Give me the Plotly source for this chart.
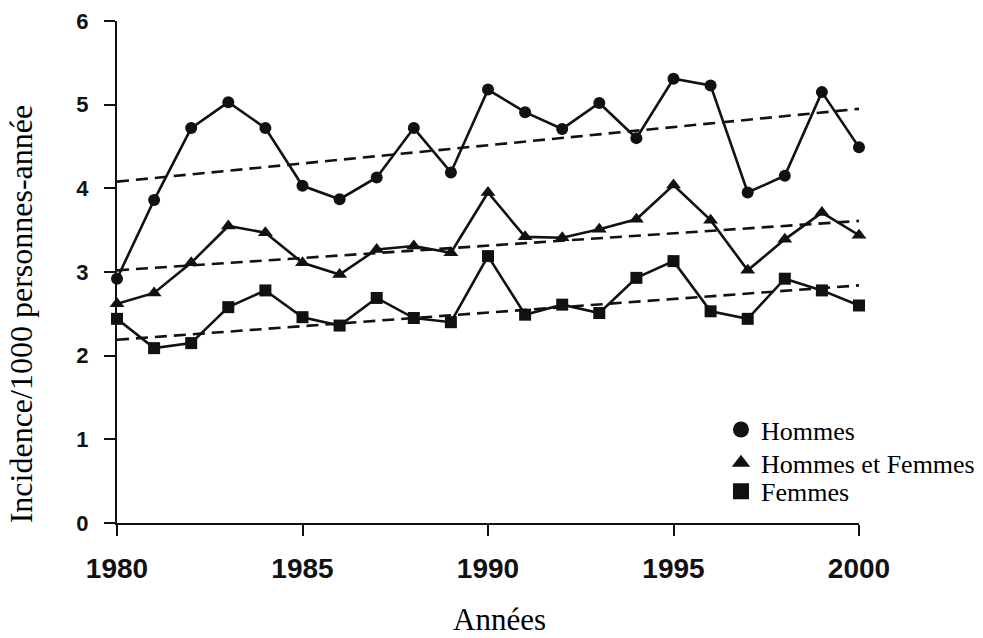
import plotly.graph_objects as go

# Incidence per 1000 person-years, 1980-2000
years = list(range(1980, 2001))
hommes = [2.92, 3.86, 4.72, 5.03, 4.72, 4.03, 3.87, 4.13, 4.72, 4.19, 5.18,
          4.91, 4.71, 5.02, 4.60, 5.31, 5.23, 3.95, 4.15, 5.15, 4.49]
hommes_femmes = [2.62, 2.75, 3.11, 3.55, 3.47, 3.11, 2.97, 3.27, 3.31, 3.23, 3.95,
                 3.42, 3.41, 3.51, 3.63, 4.04, 3.62, 3.02, 3.39, 3.71, 3.44]
femmes = [2.44, 2.09, 2.15, 2.58, 2.78, 2.46, 2.36, 2.69, 2.45, 2.40, 3.19,
          2.49, 2.61, 2.51, 2.93, 3.13, 2.53, 2.44, 2.92, 2.78, 2.60]

# Linear trend lines (start and end values)
trend_years = [1980, 2000]
trend_hommes = [4.08, 4.95]
trend_hommes_femmes = [3.02, 3.61]
trend_femmes = [2.19, 2.84]

series_names = ["Hommes", "Hommes et Femmes", "Femmes"]
symbols = ["circle", "triangle-up", "square"]
legend_ids = ["legend", "legend2", "legend3"]
x_ticks = [1980, 1985, 1990, 1995, 2000]
y_ticks = [0, 1, 2, 3, 4, 5, 6]

INK = "#111111"
fig = go.Figure()

for tr in (trend_hommes, trend_hommes_femmes, trend_femmes):
    fig.add_trace(go.Scatter(
        x=trend_years, y=tr, mode="lines",
        line=dict(color=INK, width=2.6, dash="12px,7px"),
        showlegend=False, hoverinfo="skip", cliponaxis=False))

for vals, sym, name in zip((hommes, hommes_femmes, femmes), symbols, series_names):
    fig.add_trace(go.Scatter(
        x=years, y=vals, mode="lines+markers", name=name,
        line=dict(color=INK, width=2.6),
        marker=dict(symbol=sym, size=12 if sym != "triangle-up" else 13, color=INK),
        showlegend=False, cliponaxis=False))

# Legend entries (one legend box per row) with larger markers
for sym, name, lg in zip(symbols, series_names, legend_ids):
    fig.add_trace(go.Scatter(
        x=[None], y=[None], mode="markers", name=name, legend=lg,
        marker=dict(symbol=sym, size=18 if sym == "circle" else 17, color=INK)))

legend_style = dict(
    x=0.814, xanchor="left", yanchor="middle",
    font=dict(family="Liberation Serif", size=26, color="black"),
    bgcolor="rgba(0,0,0,0)", itemwidth=30)

fig.update_layout(
    width=983, height=638,
    margin=dict(l=117, r=124, t=21, b=115, autoexpand=False),
    paper_bgcolor="white", plot_bgcolor="white",
    showlegend=True,
    legend=dict(legend_style, y=0.186),
    legend2=dict(legend_style, y=0.12),
    legend3=dict(legend_style, y=0.063),
    font=dict(family="Liberation Sans", color="black"),
    annotations=[
        dict(text="Incidence/1000 personnes-année", xref="paper", yref="paper",
             x=-0.129, y=0.4163, xanchor="center", yanchor="middle",
             textangle=-90, showarrow=False,
             font=dict(family="Liberation Serif", size=32, color="black")),
        dict(text="Années", xref="paper", yref="paper",
             x=0.516, y=-0.193, xanchor="center", yanchor="middle",
             showarrow=False,
             font=dict(family="Liberation Serif", size=31, color="black")),
    ],
)

fig.update_xaxes(
    range=[1980, 2000], tickvals=x_ticks, ticktext=[str(v) for v in x_ticks],
    showgrid=False, zeroline=False,
    showline=True, linecolor=INK, linewidth=2,
    ticks="outside", ticklen=11, tickwidth=2, tickcolor=INK,
    tickfont=dict(family="Liberation Sans", size=28, color="#111", weight="bold"),
    ticklabelstandoff=8,
)
fig.update_yaxes(
    range=[0, 6], tickvals=y_ticks,
    showgrid=False, zeroline=False,
    showline=True, linecolor=INK, linewidth=2,
    ticks="outside", ticklen=11, tickwidth=2, tickcolor=INK,
    tickfont=dict(family="Liberation Sans", size=22, color="#111", weight="bold"),
    ticklabelstandoff=11,
)

fig.write_html("out.html")
